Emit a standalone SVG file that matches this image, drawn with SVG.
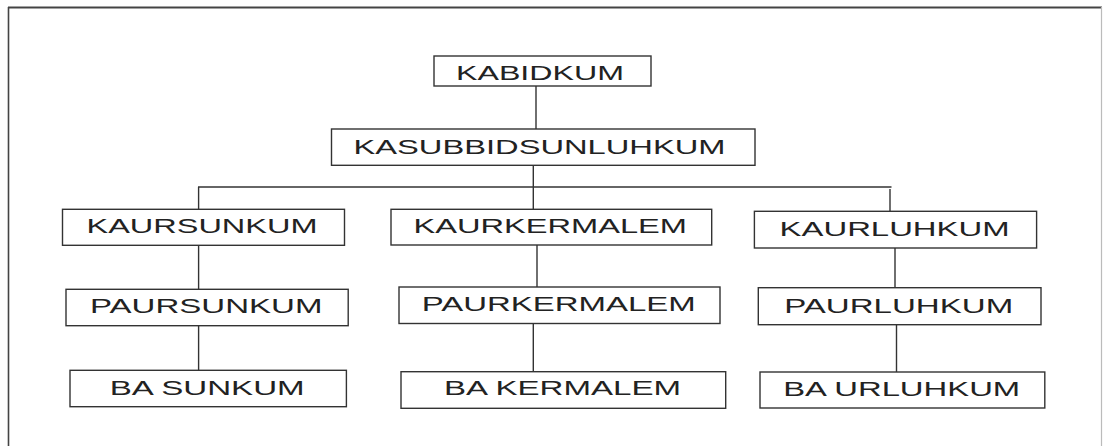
<svg xmlns="http://www.w3.org/2000/svg" width="1103" height="446" viewBox="0 0 1103 446">
<style>
.box{fill:#fff;stroke:#333;stroke-width:1.4}
.lbl{font-family:"Liberation Sans",Arial,sans-serif;font-size:19.5px;fill:#222}
.con line{stroke:#333;stroke-width:1.4}
</style>
<rect width="1103" height="446" fill="#fff"/>
<g id="frame">
<line x1="8" y1="7.5" x2="1102" y2="7.5" stroke="#444" stroke-width="2"/>
<line x1="8.5" y1="7" x2="8.5" y2="446" stroke="#444" stroke-width="1.6"/>
<line x1="1101.5" y1="7" x2="1101.5" y2="446" stroke="#bbb" stroke-width="1.2"/>
</g>
<g class="con" id="connectors">
<line x1="536" y1="86" x2="536" y2="129"/>
<line x1="533.3" y1="165.3" x2="533.3" y2="209.3"/>
<line x1="198" y1="187" x2="891.5" y2="187"/>
<line x1="198.6" y1="187" x2="198.6" y2="209.3"/>
<line x1="890" y1="189" x2="890" y2="211.3"/>
<line x1="198.6" y1="245.3" x2="198.6" y2="289.3"/>
<line x1="537" y1="245" x2="537" y2="287"/>
<line x1="895" y1="248" x2="895" y2="287.7"/>
<line x1="198.6" y1="325.7" x2="198.6" y2="370.3"/>
<line x1="533.3" y1="323.5" x2="533.3" y2="371.7"/>
<line x1="896.5" y1="324.7" x2="896.5" y2="372"/>
</g>
<g id="kabidkum"><rect class="box" x="434" y="56" width="217" height="30"/><text class="lbl" x="456" y="79.5" textLength="168" lengthAdjust="spacingAndGlyphs">KABIDKUM</text></g>
<g id="kasubbid"><rect class="box" x="331.5" y="129" width="423.5" height="36.3"/><text class="lbl" x="353.5" y="154.3" textLength="372" lengthAdjust="spacingAndGlyphs">KASUBBIDSUNLUHKUM</text></g>
<g id="kaursunkum"><rect class="box" x="62.5" y="209.3" width="282" height="36"/><text class="lbl" x="86.5" y="232.7" textLength="231" lengthAdjust="spacingAndGlyphs">KAURSUNKUM</text></g>
<g id="kaurkermalem"><rect class="box" x="391" y="209.3" width="320.7" height="35.7"/><text class="lbl" x="413.5" y="232.7" textLength="273.5" lengthAdjust="spacingAndGlyphs">KAURKERMALEM</text></g>
<g id="kaurluhkum"><rect class="box" x="754.4" y="211.3" width="282.2" height="36.7"/><text class="lbl" x="779.6" y="236" textLength="230" lengthAdjust="spacingAndGlyphs">KAURLUHKUM</text></g>
<g id="paursunkum"><rect class="box" x="66" y="289.3" width="282.2" height="36.4"/><text class="lbl" x="90" y="313.3" textLength="232.4" lengthAdjust="spacingAndGlyphs">PAURSUNKUM</text></g>
<g id="paurkermalem"><rect class="box" x="399" y="287" width="321" height="36.5"/><text class="lbl" x="421.7" y="311" textLength="274" lengthAdjust="spacingAndGlyphs">PAURKERMALEM</text></g>
<g id="paurluhkum"><rect class="box" x="758.3" y="287.7" width="282.7" height="37"/><text class="lbl" x="784.2" y="313.3" textLength="229" lengthAdjust="spacingAndGlyphs">PAURLUHKUM</text></g>
<g id="basunkum"><rect class="box" x="70" y="370.3" width="276.4" height="36.4"/><text class="lbl" x="109.7" y="394.7" textLength="195" lengthAdjust="spacingAndGlyphs">BA SUNKUM</text></g>
<g id="bakermalem"><rect class="box" x="401" y="371.7" width="324.7" height="36.6"/><text class="lbl" x="444" y="395" textLength="237" lengthAdjust="spacingAndGlyphs">BA KERMALEM</text></g>
<g id="baurluhkum"><rect class="box" x="760" y="372" width="284.8" height="36"/><text class="lbl" x="783.2" y="396" textLength="237" lengthAdjust="spacingAndGlyphs">BA URLUHKUM</text></g>
</svg>
